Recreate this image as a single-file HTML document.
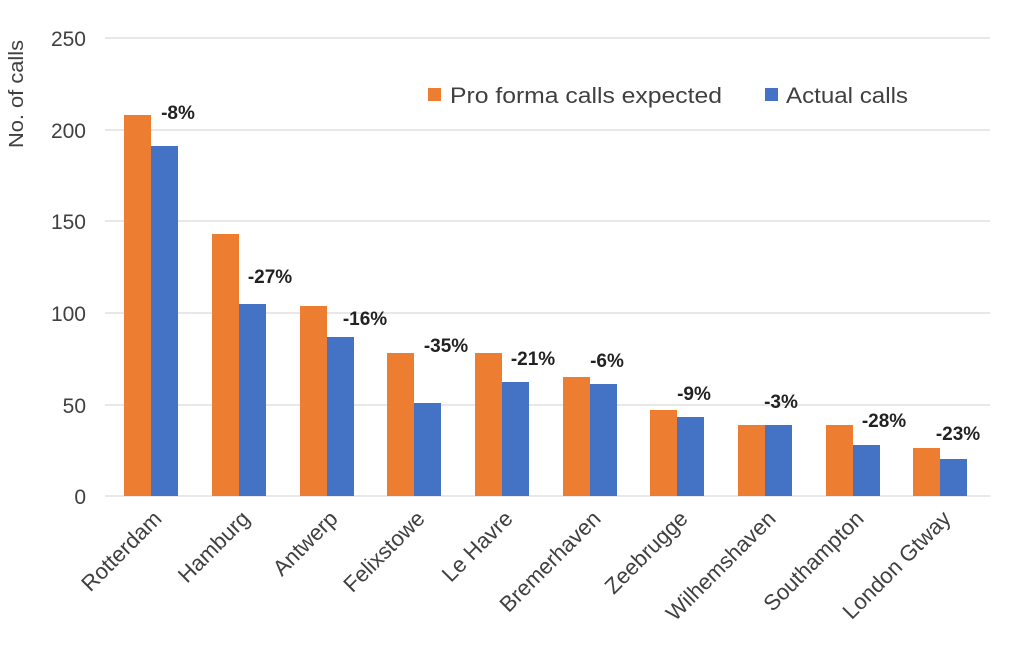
<!DOCTYPE html>
<html><head><meta charset="utf-8"><style>
body{margin:0;background:#fff;}
svg{display:block;font-family:"Liberation Sans",Arial,sans-serif;}
</style></head><body>
<svg width="1026" height="662" viewBox="0 0 1026 662" xmlns="http://www.w3.org/2000/svg">
<g stroke="#d9d9d9" stroke-width="1.3">
<line x1="105" x2="990" y1="38" y2="38"/><line x1="105" x2="990" y1="130" y2="130"/>
<line x1="105" x2="990" y1="221" y2="221"/><line x1="105" x2="990" y1="313" y2="313"/>
<line x1="105" x2="990" y1="405" y2="405"/><line x1="105" x2="990" y1="496" y2="496"/>
</g>
<g fill="#404040" font-size="21" text-anchor="end">
<text x="86" y="46">250</text><text x="86" y="138">200</text><text x="86" y="229">150</text>
<text x="86" y="321">100</text><text x="86" y="413">50</text><text x="86" y="504">0</text>
</g>
<text transform="translate(23,94) rotate(-90)" font-size="20" fill="#404040" text-anchor="middle" textLength="108" lengthAdjust="spacingAndGlyphs">No. of calls</text>
<g>
<rect x="124" y="115" width="27" height="381" fill="#ED7D31"/><rect x="151" y="146" width="27" height="350" fill="#4472C4"/>
<rect x="212" y="234" width="27" height="262" fill="#ED7D31"/><rect x="239" y="304" width="27" height="192" fill="#4472C4"/>
<rect x="300" y="306" width="27" height="190" fill="#ED7D31"/><rect x="327" y="337" width="27" height="159" fill="#4472C4"/>
<rect x="387" y="353" width="27" height="143" fill="#ED7D31"/><rect x="414" y="403" width="27" height="93" fill="#4472C4"/>
<rect x="475" y="353" width="27" height="143" fill="#ED7D31"/><rect x="502" y="382" width="27" height="114" fill="#4472C4"/>
<rect x="563" y="377" width="27" height="119" fill="#ED7D31"/><rect x="590" y="384" width="27" height="112" fill="#4472C4"/>
<rect x="650" y="410" width="27" height="86" fill="#ED7D31"/><rect x="677" y="417" width="27" height="79" fill="#4472C4"/>
<rect x="738" y="425" width="27" height="71" fill="#ED7D31"/><rect x="765" y="425" width="27" height="71" fill="#4472C4"/>
<rect x="826" y="425" width="27" height="71" fill="#ED7D31"/><rect x="853" y="445" width="27" height="51" fill="#4472C4"/>
<rect x="913" y="448" width="27" height="48" fill="#ED7D31"/><rect x="940" y="459" width="27" height="37" fill="#4472C4"/>
</g>
<rect x="428" y="88" width="13" height="13" fill="#ED7D31"/>
<text x="450" y="103" font-size="22" fill="#404040" textLength="272" lengthAdjust="spacingAndGlyphs">Pro forma calls expected</text>
<rect x="765" y="88" width="13" height="13" fill="#4472C4"/>
<text x="786" y="103" font-size="22" fill="#404040" textLength="122" lengthAdjust="spacingAndGlyphs">Actual calls</text>
<g font-size="19" font-weight="bold" fill="#222" text-anchor="middle">
<text x="178" y="119">-8%</text><text x="270" y="283">-27%</text><text x="365" y="325">-16%</text>
<text x="446" y="352">-35%</text><text x="533" y="365">-21%</text><text x="607" y="367">-6%</text>
<text x="694" y="400">-9%</text><text x="781" y="408">-3%</text><text x="884" y="427">-28%</text>
<text x="958" y="440">-23%</text>
</g>
<g font-size="22" fill="#404040" text-anchor="end">
<text transform="translate(163,520) rotate(-45)">Rotterdam</text>
<text transform="translate(251,520) rotate(-45)">Hamburg</text>
<text transform="translate(339,520) rotate(-45)">Antwerp</text>
<text transform="translate(426,520) rotate(-45)">Felixstowe</text>
<text transform="translate(514,520) rotate(-45)">Le Havre</text>
<text transform="translate(602,520) rotate(-45)">Bremerhaven</text>
<text transform="translate(689,520) rotate(-45)">Zeebrugge</text>
<text transform="translate(777,520) rotate(-45)">Wilhemshaven</text>
<text transform="translate(865,520) rotate(-45)">Southampton</text>
<text transform="translate(952,520) rotate(-45)">London Gtway</text>
</g>
</svg>
</body></html>
